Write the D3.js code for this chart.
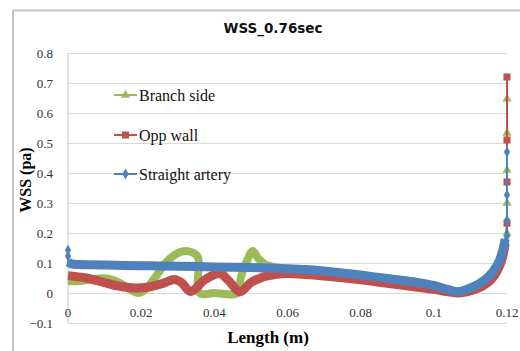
<!DOCTYPE html>
<html>
<head>
<meta charset="utf-8">
<script src="https://cdn.jsdelivr.net/npm/d3@7"></script>
<style>
  body { margin: 0; background: #fff; }
  .grid line { stroke: #d9d9d9; stroke-width: 1; }
  .grid path { display: none; }
  .serif { font-family: "Times New Roman", "Liberation Serif", "DejaVu Serif", serif; }
  .tick-label { font-size: 13px; fill: #333; }
</style>
</head>
<body>
<script>
// tick values
var yTicks = [-0.1, 0, 0.1, 0.2, 0.3, 0.4, 0.5, 0.6, 0.7, 0.8];
var xTicks = [0, 0.02, 0.04, 0.06, 0.08, 0.1, 0.12];

// series names
var seriesNames = ["Branch side", "Opp wall", "Straight artery"];

// dense part of each series [length, wss]
var branchSide = [[0, 0.04], [0.003, 0.04], [0.007, 0.047], [0.011, 0.048], [0.014, 0.035],
    [0.017, 0.012], [0.019, 0.0], [0.021, 0.01], [0.024, 0.055], [0.027, 0.105], [0.03, 0.133],
    [0.032, 0.14], [0.034, 0.135], [0.0355, 0.12], [0.036, 0.0], [0.04, 0.0], [0.0465, 0.0],
    [0.0472, 0.05], [0.049, 0.11], [0.0505, 0.14], [0.052, 0.115], [0.054, 0.095], [0.057, 0.085],
    [0.06, 0.079], [0.07, 0.069], [0.08, 0.056], [0.09, 0.039], [0.1, 0.02], [0.1065, 0.003],
    [0.111, 0.018], [0.115, 0.05], [0.1178, 0.1], [0.1195, 0.17]];
var oppWall = [[0, 0.058], [0.002, 0.055], [0.005, 0.05], [0.009, 0.038], [0.013, 0.025],
    [0.018, 0.017], [0.022, 0.02], [0.026, 0.032], [0.029, 0.045], [0.031, 0.035], [0.0335, 0.005],
    [0.0375, 0.045], [0.0415, 0.065], [0.044, 0.04], [0.047, 0.004], [0.05, 0.035], [0.053, 0.052],
    [0.057, 0.062], [0.06, 0.065], [0.065, 0.062], [0.07, 0.057], [0.075, 0.051], [0.08, 0.044],
    [0.085, 0.036], [0.09, 0.028], [0.095, 0.02], [0.1, 0.012], [0.104, 0.004], [0.1065, 0.0],
    [0.109, 0.004], [0.111, 0.011], [0.113, 0.021], [0.115, 0.037], [0.1165, 0.057],
    [0.1178, 0.085], [0.1188, 0.12], [0.1195, 0.165]];
var straightArtery = [[0, 0.103], [0.001, 0.097], [0.003, 0.095], [0.006, 0.094], [0.01, 0.093],
    [0.015, 0.092], [0.02, 0.091], [0.025, 0.09], [0.03, 0.089], [0.035, 0.088], [0.04, 0.087],
    [0.045, 0.086], [0.05, 0.085], [0.055, 0.083], [0.06, 0.081], [0.065, 0.078], [0.07, 0.073],
    [0.075, 0.067], [0.08, 0.06], [0.085, 0.052], [0.09, 0.044], [0.095, 0.036], [0.1, 0.025],
    [0.104, 0.011], [0.1065, 0.004], [0.109, 0.012], [0.111, 0.022], [0.113, 0.036], [0.115, 0.055],
    [0.1165, 0.077], [0.1178, 0.105], [0.1188, 0.14], [0.1195, 0.18]];

// sparse points where single markers show
var branchTail = [[0.12, 0.2], [0.12, 0.3], [0.12, 0.41], [0.12, 0.533], [0.12, 0.647]];
var oppTail = [[0.12, 0.233], [0.12, 0.37], [0.12, 0.51], [0.12, 0.72]];
var straightHead = [[0, 0.143], [0, 0.123]];
var straightTail = [[0.12, 0.19], [0.12, 0.243], [0.12, 0.327], [0.12, 0.47]];

var margin = { top: 53, left: 68 },
    width = 439,
    height = 270;

var svg = d3.select("body").append("svg")
    .attr("width", 520)
    .attr("height", 351);

// chart border
svg.append("path")
    .attr("d", "M13,351 V10.5 H520")
    .attr("fill", "none")
    .attr("stroke", "#c4c4c4")
    .attr("stroke-width", 2);

// title
svg.append("text")
    .attr("x", 273)
    .attr("y", 33)
    .attr("text-anchor", "middle")
    .style("font-family", "'DejaVu Sans', sans-serif")
    .style("font-weight", "bold")
    .style("font-size", "13.5px")
    .style("fill", "#111")
    .text("WSS_0.76sec");

var g = svg.append("g")
    .attr("transform", "translate(" + margin.left + "," + margin.top + ")");

// set the ranges
var x = d3.scaleLinear().domain([0, 0.12]).range([0, width]);
var y = d3.scaleLinear().domain([-0.1, 0.8]).range([height, 0]);

// gridlines
g.append("g")
    .attr("class", "grid")
    .call(d3.axisLeft(y).tickValues(yTicks).tickSize(-width).tickFormat(""));

// y axis line
g.append("line")
    .attr("x1", 0).attr("x2", 0)
    .attr("y1", 0).attr("y2", height)
    .attr("stroke", "#c8c8c8");

// y tick labels
g.selectAll(".ylab")
    .data(yTicks)
    .enter().append("text")
    .attr("class", "serif tick-label")
    .attr("x", -15)
    .attr("y", function(d) { return y(d); })
    .attr("dy", ".35em")
    .attr("text-anchor", "end")
    .text(function(d) { return d3.format("")(d); });

// x tick labels sit under the zero line
g.selectAll(".xlab")
    .data(xTicks)
    .enter().append("text")
    .attr("class", "serif tick-label")
    .attr("x", function(d) { return x(d); })
    .attr("y", y(0) + 19)
    .attr("dy", ".35em")
    .attr("text-anchor", "middle")
    .text(function(d) { return d3.format("")(d); });

// axis titles
svg.append("text")
    .attr("class", "serif")
    .attr("x", 268)
    .attr("y", 343)
    .attr("text-anchor", "middle")
    .style("font-weight", "bold")
    .style("font-size", "17px")
    .text("Length (m)");

svg.append("text")
    .attr("class", "serif")
    .attr("transform", "translate(31,180) rotate(-90)")
    .attr("text-anchor", "middle")
    .style("font-weight", "bold")
    .style("font-size", "16px")
    .text("WSS (pa)");

var band = d3.line()
    .x(function(d) { return x(d[0]); })
    .y(function(d) { return y(d[1]); })
    .curve(d3.curveCatmullRom.alpha(0.5));

var thin = d3.line()
    .x(function(d) { return x(d[0]); })
    .y(function(d) { return y(d[1]); });

var symbols = [d3.symbolTriangle, d3.symbolSquare, d3.symbolDiamond];
var sizes = [36, 50, 34];
var colors = ["#9bbb59", "#c0504d", "#4f81bd"];
var bandWidths = [8, 9, 9];

var series = [
    { dense: branchSide, head: [], tail: branchTail },
    { dense: oppWall, head: [], tail: oppTail },
    { dense: straightArtery, head: straightHead, tail: straightTail }
];

series.forEach(function(s, i) {
    var all = s.head.concat(s.dense, s.tail);

    // thin connecting line
    g.append("path")
        .datum(all)
        .attr("fill", "none")
        .attr("stroke", colors[i])
        .attr("stroke-width", 2)
        .attr("d", thin);

    // dense markers merge into a thick band
    g.append("path")
        .datum(s.dense)
        .attr("fill", "none")
        .attr("stroke", colors[i])
        .attr("stroke-width", bandWidths[i])
        .attr("stroke-linejoin", "round")
        .attr("d", band);

    g.selectAll(".m" + i)
        .data(s.head.concat(s.tail))
        .enter().append("path")
        .attr("transform", function(d) { return "translate(" + x(d[0]) + "," + y(d[1]) + ")"; })
        .attr("d", d3.symbol().type(symbols[i]).size(sizes[i]))
        .attr("fill", colors[i]);
});

// legend
var legendY = [95, 135, 174];
seriesNames.forEach(function(name, i) {
    svg.append("line")
        .attr("x1", 114).attr("x2", 137)
        .attr("y1", legendY[i]).attr("y2", legendY[i])
        .attr("stroke", colors[i])
        .attr("stroke-width", 2);
    svg.append("path")
        .attr("transform", "translate(125.5," + legendY[i] + ")")
        .attr("d", d3.symbol().type(symbols[i]).size(sizes[i]))
        .attr("fill", colors[i]);
    svg.append("text")
        .attr("class", "serif")
        .attr("x", 139)
        .attr("y", legendY[i])
        .attr("dy", ".35em")
        .style("font-size", "16px")
        .style("fill", "#111")
        .text(name);
});
</script>
</body>
</html>
